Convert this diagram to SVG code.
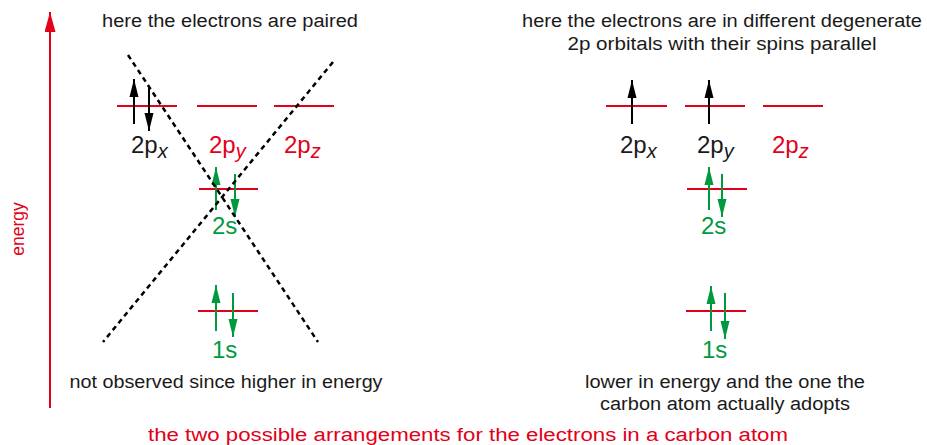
<svg xmlns="http://www.w3.org/2000/svg" width="927" height="445" viewBox="0 0 927 445">
<style>
.t{font-family:"Liberation Sans",Arial,sans-serif;fill:#1a1a1a}
.cap{font-size:18px}
.lab{font-size:24px}
.sub{font-size:20px;font-style:italic}
.red{fill:#e2001a}
.grn{fill:#009a3e}
.lvl{stroke:#e2001a;stroke-width:2.2}
.eb{stroke:#000;stroke-width:2}
.eg{stroke:#009a3e;stroke-width:2}
.dash{stroke:#000;stroke-width:2.5;stroke-dasharray:5 4;fill:none}
</style>
<defs>
<marker id="hb" markerUnits="userSpaceOnUse" markerWidth="20" markerHeight="10" refX="18" refY="5" orient="auto"><path d="M0,0.5 L18,5 L0,9.5 z" fill="#000"/></marker>
<marker id="hg" markerUnits="userSpaceOnUse" markerWidth="20" markerHeight="10" refX="18" refY="5" orient="auto"><path d="M0,0.5 L18,5 L0,9.5 z" fill="#009a3e"/></marker>
<marker id="hr" markerUnits="userSpaceOnUse" markerWidth="22" markerHeight="12" refX="20" refY="5.5" orient="auto"><path d="M0,0 L20,5.5 L0,11 z" fill="#e2001a"/></marker>
</defs>

<g id="energy-axis">
<line x1="50" y1="408" x2="50" y2="12" stroke="#e2001a" stroke-width="2" marker-end="url(#hr)"/>
<text class="t red" font-size="17.5" transform="translate(24,229) rotate(-90)" text-anchor="middle">energy</text>
</g>

<g id="captions">
<text class="t cap" x="230" y="27" text-anchor="middle" textLength="256" lengthAdjust="spacingAndGlyphs">here the electrons are paired</text>
<text class="t cap" x="722" y="27" text-anchor="middle" textLength="400" lengthAdjust="spacingAndGlyphs">here the electrons are in different degenerate</text>
<text class="t cap" x="722" y="50" text-anchor="middle" textLength="309" lengthAdjust="spacingAndGlyphs">2p orbitals with their spins parallel</text>
<text class="t cap" x="226" y="388" text-anchor="middle" textLength="313" lengthAdjust="spacingAndGlyphs">not observed since higher in energy</text>
<text class="t cap" x="725" y="388" text-anchor="middle" textLength="280" lengthAdjust="spacingAndGlyphs">lower in energy and the one the</text>
<text class="t cap" x="725" y="410" text-anchor="middle" textLength="250" lengthAdjust="spacingAndGlyphs">carbon atom actually adopts</text>
<text class="t cap red" x="468" y="441" text-anchor="middle" textLength="640" lengthAdjust="spacingAndGlyphs">the two possible arrangements for the electrons in a carbon atom</text>
</g>

<g id="left-2px">
<line class="lvl" x1="117" y1="106" x2="177" y2="106"/>
<line class="eb" x1="134" y1="124" x2="134" y2="79" marker-end="url(#hb)"/>
<line class="eb" x1="149" y1="88" x2="149" y2="131" marker-end="url(#hb)"/>
<text class="t lab" x="131" y="153">2p<tspan class="sub" dy="5">x</tspan></text>
</g>
<g id="left-2py">
<line class="lvl" x1="197" y1="106" x2="257" y2="106"/>
<text class="t lab red" x="209" y="153">2p<tspan class="sub" dy="5">y</tspan></text>
</g>
<g id="left-2pz">
<line class="lvl" x1="274" y1="106" x2="334" y2="106"/>
<text class="t lab red" x="284" y="153">2p<tspan class="sub" dy="5">z</tspan></text>
</g>
<g id="left-2s">
<line class="lvl" x1="199" y1="189" x2="258" y2="189"/>
<line class="eg" x1="216" y1="210" x2="216" y2="167" marker-end="url(#hg)"/>
<line class="eg" x1="235" y1="174" x2="235" y2="217" marker-end="url(#hg)"/>
<text class="t lab grn" x="212" y="234">2s</text>
</g>
<g id="left-1s">
<line class="lvl" x1="198" y1="311" x2="258" y2="311"/>
<line class="eg" x1="216" y1="331" x2="216" y2="285" marker-end="url(#hg)"/>
<line class="eg" x1="233" y1="293" x2="233" y2="337" marker-end="url(#hg)"/>
<text class="t lab grn" x="212" y="358">1s</text>
</g>

<g id="connectors">
<line class="dash" x1="128" y1="55" x2="318" y2="342"/>
<line class="dash" x1="333" y1="62" x2="103" y2="342"/>
</g>

<g id="right-2px">
<line class="lvl" x1="606" y1="106" x2="667" y2="106"/>
<line class="eb" x1="632" y1="124" x2="632" y2="80" marker-end="url(#hb)"/>
<text class="t lab" x="620" y="153">2p<tspan class="sub" dy="5">x</tspan></text>
</g>
<g id="right-2py">
<line class="lvl" x1="685" y1="106" x2="745" y2="106"/>
<line class="eb" x1="709" y1="124" x2="709" y2="80" marker-end="url(#hb)"/>
<text class="t lab" x="697" y="153">2p<tspan class="sub" dy="5">y</tspan></text>
</g>
<g id="right-2pz">
<line class="lvl" x1="763" y1="106" x2="823" y2="106"/>
<text class="t lab red" x="772" y="153">2p<tspan class="sub" dy="5">z</tspan></text>
</g>
<g id="right-2s">
<line class="lvl" x1="687" y1="189" x2="747" y2="189"/>
<line class="eg" x1="709" y1="210" x2="709" y2="167" marker-end="url(#hg)"/>
<line class="eg" x1="722" y1="174" x2="722" y2="217" marker-end="url(#hg)"/>
<text class="t lab grn" x="701" y="234">2s</text>
</g>
<g id="right-1s">
<line class="lvl" x1="686" y1="311" x2="746" y2="311"/>
<line class="eg" x1="711" y1="331" x2="711" y2="286" marker-end="url(#hg)"/>
<line class="eg" x1="725" y1="293" x2="725" y2="339" marker-end="url(#hg)"/>
<text class="t lab grn" x="702" y="358">1s</text>
</g>
</svg>
